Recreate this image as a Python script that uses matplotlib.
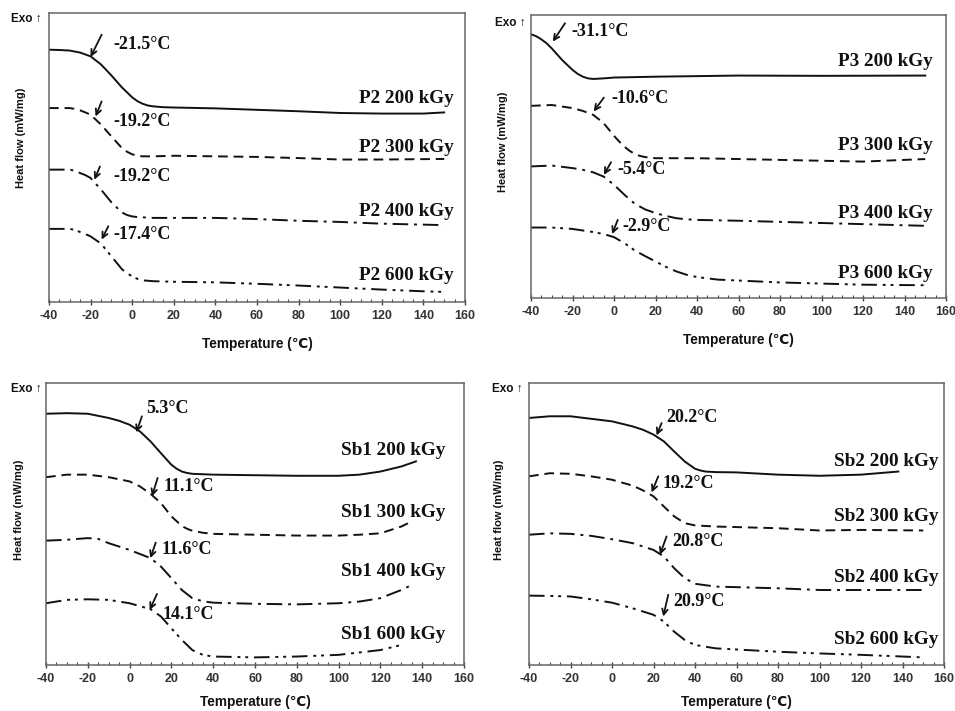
import matplotlib
matplotlib.use("Agg")
import matplotlib.pyplot as plt
from matplotlib.ticker import MultipleLocator

plt.rcParams["axes.unicode_minus"] = False

# ---------------- data (arbitrary heat-flow units, 0 = bottom, 100 = top) -------------
# Panel P2
p2_200_x = [-40, -35, -30, -25, -20, -15, -10, -5, 0, 2.5, 5, 7.5, 10, 15, 20, 40, 60, 80, 100, 120, 140, 150]
p2_200_y = [87.3, 87.2, 87.0, 86.3, 85.0, 82.2, 78.4, 74.3, 70.8, 69.5, 68.6, 68.0, 67.7, 67.4, 67.3, 67.0, 66.5, 66.0, 65.4, 65.2, 65.2, 65.6]
p2_300_x = [-40, -30, -27.5, -25, -22.5, -20, -15, -10, -5, -2.5, 0, 2.5, 5, 10, 20, 40, 60, 80, 100, 120, 150]
p2_300_y = [67.1, 67.1, 66.8, 66.3, 65.6, 64.8, 61.4, 57.3, 53.3, 52.0, 51.1, 50.6, 50.4, 50.4, 50.6, 50.4, 50.2, 49.8, 49.3, 49.3, 49.5]
p2_400_x = [-40, -30, -27.5, -25, -22.5, -20, -15, -10, -5, -2.5, 0, 2.5, 5, 10, 40, 60, 80, 100, 120, 150]
p2_400_y = [45.8, 45.8, 45.4, 44.6, 43.9, 42.9, 38.9, 34.5, 31.0, 30.1, 29.6, 29.4, 29.3, 29.1, 29.1, 28.7, 28.1, 27.7, 27.1, 26.6]
p2_600_x = [-40, -30, -27.5, -25, -22.5, -20, -15, -10, -5, -2.5, 0, 2.5, 5, 10, 20, 40, 60, 80, 100, 120, 140, 150]
p2_600_y = [25.3, 25.3, 24.9, 24.2, 23.5, 22.7, 20.2, 15.8, 11.4, 9.9, 8.9, 8.0, 7.5, 7.2, 7.0, 6.8, 6.3, 5.7, 5.0, 4.3, 3.7, 3.5]

# Panel P3
p3_200_x = [-40, -37.5, -35, -32.5, -30, -25, -20, -17.5, -15, -12.5, -10, -5, 0, 20, 60, 100, 150]
p3_200_y = [93.2, 92.5, 91.4, 90.0, 88.2, 84.1, 80.6, 79.2, 78.2, 77.6, 77.4, 77.6, 77.9, 78.2, 78.6, 78.5, 78.6]
p3_300_x = [-40, -30, -20, -15, -10, -5, 0, 2.5, 5, 7.5, 10, 12.5, 15, 17.5, 20, 40, 80, 120, 150]
p3_300_y = [67.9, 68.2, 67.1, 66.1, 64.7, 61.8, 57.3, 55.3, 53.5, 52.0, 50.9, 50.2, 49.8, 49.6, 49.4, 49.4, 48.8, 48.2, 49.1]
p3_400_x = [-40, -30, -20, -15, -10, -5, 0, 5, 10, 15, 20, 25, 30, 35, 40, 60, 100, 150]
p3_400_y = [46.5, 46.8, 45.9, 45.3, 44.4, 42.9, 40.0, 36.5, 33.3, 31.3, 30.0, 29.0, 28.2, 27.8, 27.6, 27.3, 26.5, 25.5]
p3_600_x = [-40, -30, -20, -10, -5, 0, 5, 10, 15, 20, 25, 30, 35, 40, 50, 80, 100, 120, 150]
p3_600_y = [24.9, 24.9, 24.4, 23.3, 22.6, 21.5, 19.4, 16.8, 14.8, 12.9, 11.0, 9.4, 8.2, 7.4, 6.5, 5.5, 5.1, 4.7, 4.5]

# Panel Sb1
sb1_200_x = [-40, -30, -20, -10, -5, 0, 5, 10, 15, 20, 22.5, 25, 27.5, 30, 40, 60, 80, 100, 110, 120, 130, 137]
sb1_200_y = [89.1, 89.3, 89.1, 87.6, 86.6, 85.2, 82.8, 79.3, 75.1, 71.0, 69.6, 68.6, 68.1, 67.8, 67.5, 67.3, 67.1, 67.1, 67.5, 68.6, 70.4, 72.2]
sb1_300_x = [-40, -30, -20, -10, 0, 5, 10, 15, 20, 25, 27.5, 30, 35, 40, 60, 80, 100, 110, 120, 130, 135]
sb1_300_y = [66.6, 67.5, 67.5, 66.6, 65.1, 63.3, 60.7, 57.4, 52.7, 49.3, 48.3, 47.6, 46.9, 46.5, 46.2, 45.9, 45.9, 46.2, 46.7, 49.1, 50.9]
sb1_400_x = [-40, -30, -20, -15, -10, 0, 10, 15, 20, 25, 30, 35, 40, 60, 80, 100, 110, 120, 130, 135]
sb1_400_y = [44.1, 44.4, 45.0, 44.7, 43.2, 40.8, 37.9, 34.9, 30.8, 26.6, 23.7, 22.6, 22.1, 21.7, 21.5, 21.9, 22.5, 23.7, 26.6, 28.4]
sb1_600_x = [-40, -30, -20, -10, 0, 10, 15, 20, 25, 30, 35, 40, 60, 80, 100, 120, 130]
sb1_600_y = [21.9, 23.1, 23.3, 23.1, 21.9, 19.8, 17.2, 13.0, 8.9, 5.3, 3.6, 3.0, 2.7, 3.0, 3.6, 5.3, 7.1]

# Panel Sb2
sb2_200_x = [-40, -30, -20, -10, 0, 10, 15, 20, 25, 30, 35, 40, 42.5, 45, 50, 60, 80, 100, 120, 138]
sb2_200_y = [87.6, 88.2, 88.2, 87.3, 86.4, 84.6, 83.4, 81.7, 79.3, 75.7, 72.2, 69.6, 69.0, 68.6, 68.4, 68.3, 67.5, 67.1, 67.5, 68.6]
sb2_300_x = [-40, -30, -20, -10, 0, 10, 15, 20, 25, 30, 35, 40, 50, 80, 100, 120, 150]
sb2_300_y = [66.9, 68.0, 67.8, 66.9, 65.7, 63.6, 61.9, 59.8, 56.2, 52.7, 50.3, 49.5, 49.1, 48.5, 47.7, 47.9, 47.7]
sb2_400_x = [-40, -30, -20, -10, 0, 10, 20, 25, 30, 35, 40, 50, 80, 100, 120, 150]
sb2_400_y = [46.2, 46.7, 46.5, 45.8, 44.6, 43.2, 40.8, 38.5, 34.3, 30.8, 28.8, 27.8, 27.2, 26.6, 26.6, 26.6]
sb2_600_x = [-40, -30, -20, -10, 0, 10, 20, 25, 30, 35, 40, 50, 80, 100, 120, 150]
sb2_600_y = [24.6, 24.5, 24.3, 23.3, 22.1, 20.1, 17.8, 15.4, 11.8, 8.9, 7.1, 5.9, 4.7, 4.1, 3.6, 2.7]

doses = ["200 kGy", "300 kGy", "400 kGy", "600 kGy"]
samples = ["P2", "P3", "Sb1", "Sb2"]

# curve label positions (right edge x, centre y)
label_x = [154.4, 153.4, 151.1, 157.3]
label_y = [[70.4, 53.3, 31.4, 9.1],
           [83.5, 53.8, 30.0, 8.6],
           [76.0, 54.1, 33.1, 10.9],
           [72.2, 52.7, 31.1, 9.1]]

# transition temperature annotations: text, text pos, arrow tail, arrow head
tg_text = [["-21.5°C", "-19.2°C", "-19.2°C", "-17.4°C"],
           ["-31.1°C", "-10.6°C", "-5.4°C", "-2.9°C"],
           ["5.3°C", "11.1°C", "11.6°C", "14.1°C"],
           ["20.2°C", "19.2°C", "20.8°C", "20.9°C"]]
tg_textpos = [[(-9.1, 89.0), (-9.1, 62.5), (-9.1, 43.5), (-9.1, 23.5)],
              [(-20.7, 94.1), (-1.4, 70.6), (1.8, 45.5), (4.2, 25.1)],
              [(7.8, 91.1), (16.3, 63.3), (15.5, 40.8), (15.8, 17.8)],
              [(26.3, 87.6), (24.4, 64.5), (28.8, 43.8), (29.6, 22.5)]]
tg_tail = [[(-14.7, 92.5), (-14.7, 69.4), (-15.5, 46.9), (-11.5, 26.2)],
           [(-23.6, 97.1), (-4.9, 70.8), (-1.4, 48.0), (1.8, 27.6)],
           [(5.9, 88.2), (13.4, 66.3), (12.5, 43.4), (13.1, 25.2)],
           [(23.9, 85.8), (22.3, 66.9), (26.3, 45.6), (27.1, 24.9)]]
tg_head = [[(-20.0, 84.8), (-17.6, 64.2), (-18.2, 42.3), (-14.7, 21.6)],
           [(-29.5, 90.6), (-9.8, 65.9), (-4.9, 43.5), (-0.9, 22.6)],
           [(3.2, 82.5), (10.7, 59.8), (9.9, 37.9), (9.6, 19.5)],
           [(21.5, 81.4), (19.1, 61.2), (23.1, 39.1), (24.7, 17.2)]]

curves = [
    [(p2_200_x, p2_200_y), (p2_300_x, p2_300_y), (p2_400_x, p2_400_y), (p2_600_x, p2_600_y)],
    [(p3_200_x, p3_200_y), (p3_300_x, p3_300_y), (p3_400_x, p3_400_y), (p3_600_x, p3_600_y)],
    [(sb1_200_x, sb1_200_y), (sb1_300_x, sb1_300_y), (sb1_400_x, sb1_400_y), (sb1_600_x, sb1_600_y)],
    [(sb2_200_x, sb2_200_y), (sb2_300_x, sb2_300_y), (sb2_400_x, sb2_400_y), (sb2_600_x, sb2_600_y)],
]

# ---------------- styling -------------
linestyles = ["-", (0, (5, 3)), (0, (8, 3, 1.5, 3)), (0, (8, 3, 1.5, 2.5, 1.5, 3))]
serif = ["Liberation Serif", "DejaVu Serif"]
sans = ["Liberation Sans", "DejaVu Sans"]

fig = plt.figure(figsize=(9.55, 7.11), dpi=100)
W, H = 955, 711
# axes pixel boxes: left, right, top, bottom
boxes = [(49, 465, 13, 302), (531, 946, 15, 298), (46, 464, 383, 665), (529, 944, 383, 665)]
exo_pos = [(11, 19), (495, 23), (11, 389), (492, 389)]
ylab_y = [138, 142, 510, 510]
ylab_x = [21, 503, 19, 499]
xlab_gap = [35, 35, 30, 30]

for i in range(4):
    l, r, t, b = boxes[i]
    ax = fig.add_axes([l / W, 1 - b / H, (r - l) / W, (b - t) / H])
    ax.set_xlim(-40, 160)
    ax.set_ylim(0, 100)
    for j in range(4):
        xs, ys = curves[i][j]
        ax.plot(xs, ys, color="#111111", lw=1.4, linestyle=linestyles[j])
        ax.text(label_x[i], label_y[i][j], f"{samples[i]} {doses[j]}", ha="right", va="center",
                family=serif, fontweight="bold", fontsize=13.8, color="#111111")
        ax.annotate("", xy=tg_head[i][j], xytext=tg_tail[i][j],
                    arrowprops=dict(arrowstyle="->", lw=1.3, color="#111111",
                                    mutation_scale=10, shrinkA=0, shrinkB=0))
        ax.text(tg_textpos[i][j][0], tg_textpos[i][j][1], tg_text[i][j], ha="left", va="center",
                family=serif, fontweight="bold", fontsize=13, color="#111111")

    ax.xaxis.set_major_locator(MultipleLocator(20))
    ax.xaxis.set_minor_locator(MultipleLocator(5))
    ax.set_yticks([])
    ax.tick_params(axis="x", which="major", direction="inout", length=5, width=1.0,
                   color="#444444", labelsize=9, labelcolor="#333333", pad=3)
    ax.tick_params(axis="x", which="minor", direction="in", length=2.5, width=0.8, color="#444444")
    ax.tick_params(axis="x", which="both", top=False)
    for lab in ax.get_xticklabels():
        lab.set_family(sans)
        lab.set_fontweight("bold")
    for sp in ax.spines.values():
        sp.set_color("#666666")
        sp.set_linewidth(1.1)

    ax.set_ylabel("Heat flow (mW/mg)", family=sans, fontweight="bold", fontsize=8.0, color="#111111")
    ax.yaxis.set_label_coords((ylab_x[i] - l) / (r - l), (b - ylab_y[i]) / (b - t))
    ax.yaxis.label.set_va("center")
    ax.set_xlabel("Temperature (℃)", family=sans, fontweight="bold", fontsize=9.8, color="#111111")
    ax.xaxis.set_label_coords(0.5, -xlab_gap[i] / (b - t))

    ex, ey = exo_pos[i]
    fig.text(ex / W, 1 - ey / H, "Exo ↑", family=sans, fontweight="bold", fontsize=8.5,
             ha="left", va="center", color="#111111")

fig.savefig("out.png", dpi=100)
